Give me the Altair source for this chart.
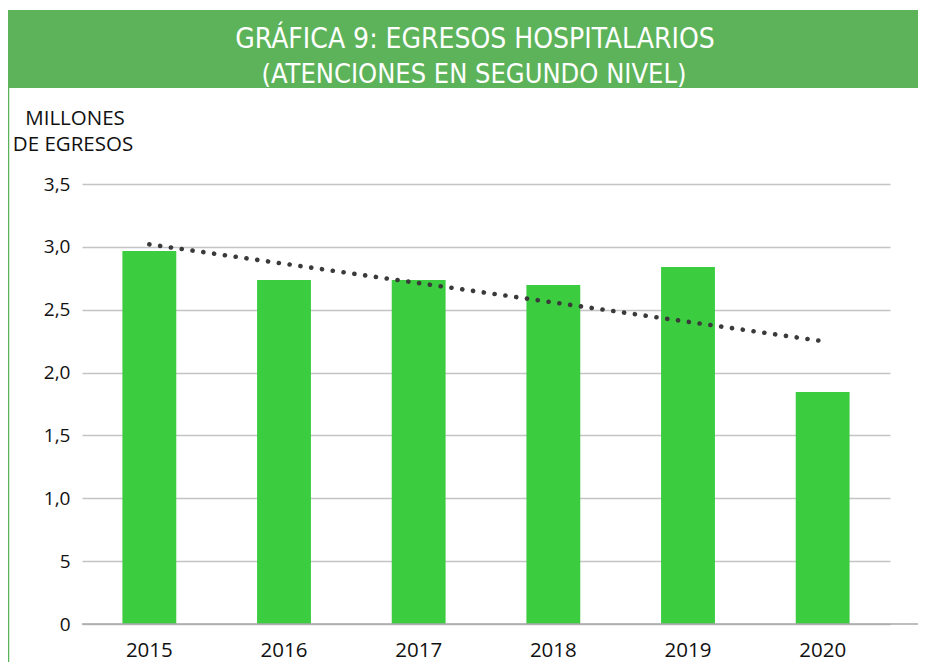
import altair as alt
import pandas as pd

years = ["2015", "2016", "2017", "2018", "2019", "2020"]
egresos = [2.967, 2.737, 2.737, 2.697, 2.84, 1.846]
tendencia = [3.02, 2.866, 2.712, 2.558, 2.404, 2.25]
tick_values = [0, 0.5, 1.0, 1.5, 2.0, 2.5, 3.0, 3.5]
tick_labels = ["0", "5", "1,0", "1,5", "2,0", "2,5", "3,0", "3,5"]
title_lines = ["GRÁFICA 9: EGRESOS HOSPITALARIOS", "(ATENCIONES EN SEGUNDO NIVEL)"]
yaxis_title = ["MILLONES", "DE EGRESOS"]

W, H = 808, 440
PADL, PADT, PADR, PADB = 74, 176, 28, 38

df = pd.DataFrame({"year": years, "value": egresos, "trend": tendencia})
one = pd.DataFrame({"k": [0]})

label_expr = "[" + ",".join("'" + t + "'" for t in tick_labels) + "][round(datum.value*2)]"

xenc = alt.X("year:N", sort=years, title=None,
             scale=alt.Scale(paddingInner=0.6, paddingOuter=0.3, align=0.5),
             axis=alt.Axis(labelAngle=0, labelFont="Open Sans", labelFontSize=20.5,
                           labelColor="#111111", labelPadding=16, domain=False, ticks=False,
                           grid=False))
yscale = alt.Scale(domain=[0, 3.5], nice=False)
yenc = alt.Y("value:Q", scale=yscale, title=None,
             axis=alt.Axis(values=tick_values, labelExpr=label_expr, labelFont="Open Sans",
                           labelFontSize=19, labelColor="#111111", labelPadding=12,
                           domain=False, ticks=False, grid=True, gridColor="#C4C4C4",
                           gridWidth=1.5))

bars = alt.Chart(df).mark_bar(color="#3BCC3F").encode(x=xenc, y=yenc)

trend = alt.Chart(df).mark_line(color="#3A3A3A", strokeWidth=4.6, strokeCap="round",
                                strokeDash=[0.1, 10.8]).encode(
    x=alt.X("year:N", sort=years),
    y=alt.Y("trend:Q", scale=yscale, title=None))

baseline = alt.Chart(one).mark_rule(color="#A8A8A8", strokeWidth=1.5).encode(
    x=alt.value(0), x2=alt.value(W + PADR), y=alt.value(H), y2=alt.value(H))

banner = alt.Chart(one).mark_rect(color="#5DB35A").encode(
    x=alt.value(-PADL), x2=alt.value(W + PADR), y=alt.value(-174), y2=alt.value(-96))

leftline = alt.Chart(one).mark_rule(color="#5DB35A", strokeWidth=1.5).encode(
    x=alt.value(-PADL + 0.5), x2=alt.value(-PADL + 0.5), y=alt.value(-174), y2=alt.value(H + PADB))

title_font = "DejaVu Sans Condensed, Liberation Sans Narrow, Liberation Sans, sans-serif"
t1 = alt.Chart(one).mark_text(font=title_font, fontSize=28, color="white", align="center",
                              baseline="middle", text=title_lines[0]).encode(
    x=alt.value(475 - 82), y=alt.value(-144))
t2 = alt.Chart(one).mark_text(font=title_font, fontSize=27, color="white", align="center",
                              baseline="middle", text=title_lines[1]).encode(
    x=alt.value(474 - 82), y=alt.value(-109))

y1 = alt.Chart(one).mark_text(font="Open Sans", fontSize=20.5, color="#111111", align="center",
                              baseline="middle", text=yaxis_title[0]).encode(
    x=alt.value(-7), y=alt.value(-65))
y2 = alt.Chart(one).mark_text(font="Open Sans", fontSize=20.5, color="#111111", align="center",
                              baseline="middle", text=yaxis_title[1]).encode(
    x=alt.value(-9), y=alt.value(-39))

chart = alt.layer(banner, leftline, bars, baseline, trend, t1, t2, y1, y2).properties(
    width=W, height=H, autosize="none",
    padding={"left": PADL, "top": PADT, "right": PADR, "bottom": PADB},
).configure(background="white").configure_view(stroke=None)

chart.save("out.html", embed_options={"renderer": "svg", "actions": False})
